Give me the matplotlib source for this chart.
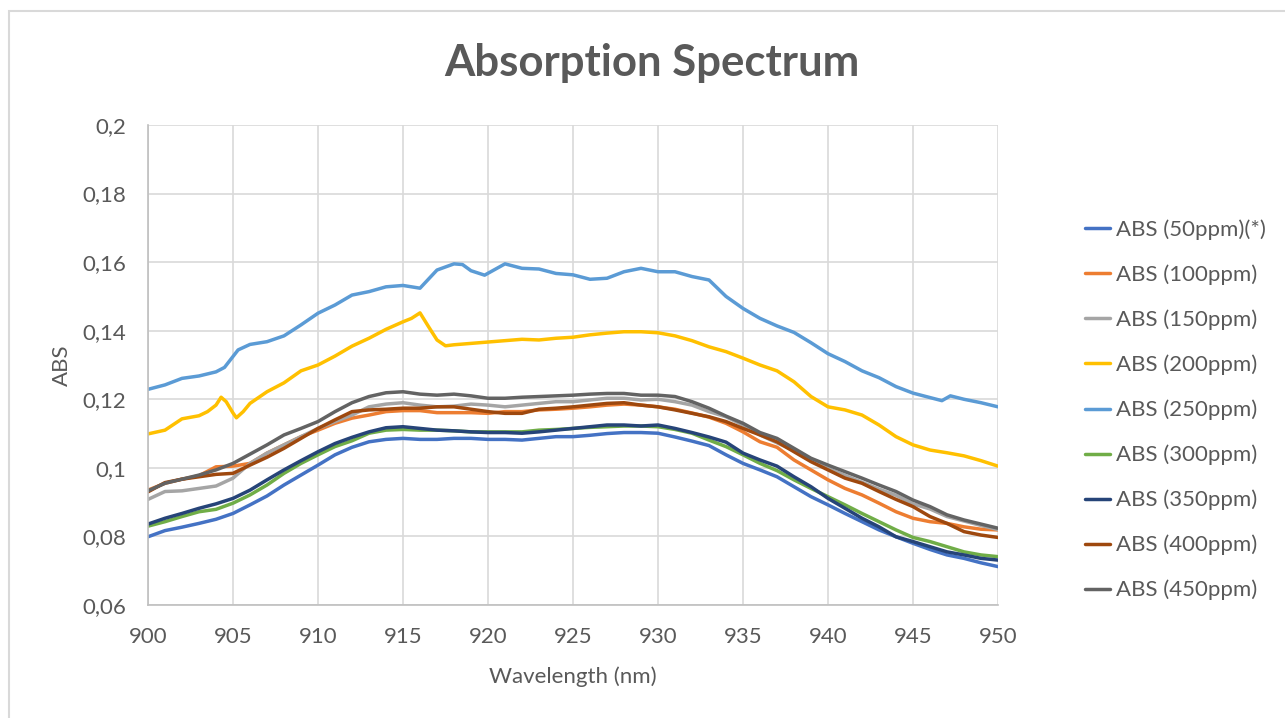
import matplotlib.pyplot as plt
from matplotlib.patches import Rectangle
from matplotlib.ticker import FuncFormatter, MultipleLocator

# wavelength grid (nm) shared by most series
wl = list(range(900, 951))

abs_50 = [0.0799, 0.0817, 0.0827, 0.0838, 0.0850, 0.0867, 0.0892, 0.0918, 0.0950, 0.0979,
          0.1008, 0.1038, 0.1060, 0.1076, 0.1083, 0.1086, 0.1083, 0.1083, 0.1086, 0.1086,
          0.1083, 0.1083, 0.1081, 0.1086, 0.1091, 0.1091, 0.1095, 0.1100, 0.1103, 0.1103,
          0.1101, 0.1090, 0.1078, 0.1065, 0.1038, 0.1013, 0.0994, 0.0974, 0.0945, 0.0916,
          0.0892, 0.0867, 0.0843, 0.0819, 0.0799, 0.0780, 0.0762, 0.0746, 0.0736, 0.0723,
          0.0712]
abs_100 = [0.0935, 0.0955, 0.0967, 0.0977, 0.1003, 0.1005, 0.1013, 0.1043, 0.1067, 0.1091,
           0.1110, 0.1130, 0.1145, 0.1154, 0.1164, 0.1167, 0.1167, 0.1161, 0.1161, 0.1161,
           0.1159, 0.1164, 0.1164, 0.1169, 0.1171, 0.1174, 0.1178, 0.1183, 0.1186, 0.1183,
           0.1178, 0.1171, 0.1160, 0.1148, 0.1130, 0.1105, 0.1076, 0.1060, 0.1023, 0.0994,
           0.0965, 0.0940, 0.0921, 0.0897, 0.0872, 0.0853, 0.0843, 0.0838, 0.0828, 0.0821,
           0.0819]
abs_150 = [0.0908, 0.0931, 0.0933, 0.0940, 0.0947, 0.0970, 0.1013, 0.1043, 0.1067, 0.1091,
           0.1115, 0.1135, 0.1154, 0.1178, 0.1186, 0.1190, 0.1183, 0.1178, 0.1180, 0.1186,
           0.1183, 0.1178, 0.1183, 0.1188, 0.1193, 0.1193, 0.1198, 0.1203, 0.1203, 0.1198,
           0.1200, 0.1193, 0.1183, 0.1164, 0.1149, 0.1125, 0.1096, 0.1073, 0.1050, 0.1020,
           0.0998, 0.0978, 0.0958, 0.0938, 0.0920, 0.0895, 0.0880, 0.0858, 0.0845, 0.0832,
           0.0820]
abs_300 = [0.0830, 0.0843, 0.0858, 0.0872, 0.0879, 0.0897, 0.0921, 0.0950, 0.0984, 0.1013,
           0.1038, 0.1062, 0.1079, 0.1101, 0.1110, 0.1112, 0.1110, 0.1110, 0.1108, 0.1105,
           0.1105, 0.1105, 0.1105, 0.1110, 0.1112, 0.1115, 0.1118, 0.1120, 0.1122, 0.1122,
           0.1120, 0.1112, 0.1101, 0.1081, 0.1062, 0.1038, 0.1013, 0.0992, 0.0965, 0.0940,
           0.0916, 0.0892, 0.0867, 0.0843, 0.0819, 0.0797, 0.0785, 0.0770, 0.0755, 0.0746,
           0.0741]
abs_350 = [0.0836, 0.0853, 0.0867, 0.0882, 0.0895, 0.0911, 0.0935, 0.0965, 0.0994, 0.1021,
           0.1047, 0.1071, 0.1089, 0.1105, 0.1117, 0.1120, 0.1115, 0.1110, 0.1108, 0.1105,
           0.1103, 0.1103, 0.1101, 0.1105, 0.1110, 0.1115, 0.1120, 0.1125, 0.1125, 0.1122,
           0.1125, 0.1115, 0.1103, 0.1090, 0.1075, 0.1043, 0.1023, 0.1005, 0.0974, 0.0945,
           0.0911, 0.0882, 0.0853, 0.0828, 0.0799, 0.0785, 0.0770, 0.0755, 0.0746, 0.0736,
           0.0731]
abs_400 = [0.0930, 0.0957, 0.0967, 0.0974, 0.0981, 0.0984, 0.1008, 0.1031, 0.1057, 0.1086,
           0.1115, 0.1140, 0.1164, 0.1169, 0.1171, 0.1174, 0.1174, 0.1178, 0.1178, 0.1171,
           0.1164, 0.1159, 0.1159, 0.1171, 0.1174, 0.1178, 0.1183, 0.1188, 0.1190, 0.1183,
           0.1178, 0.1169, 0.1159, 0.1149, 0.1135, 0.1115, 0.1096, 0.1076, 0.1047, 0.1018,
           0.0994, 0.0970, 0.0955, 0.0931, 0.0908, 0.0887, 0.0858, 0.0838, 0.0814, 0.0804,
           0.0797]
abs_450 = [0.0933, 0.0955, 0.0967, 0.0979, 0.0994, 0.1013, 0.1040, 0.1067, 0.1096, 0.1115,
           0.1135, 0.1164, 0.1190, 0.1208, 0.1219, 0.1222, 0.1215, 0.1212, 0.1215, 0.1210,
           0.1203, 0.1203, 0.1206, 0.1208, 0.1210, 0.1212, 0.1215, 0.1217, 0.1217, 0.1212,
           0.1212, 0.1208, 0.1193, 0.1174, 0.1151, 0.1130, 0.1103, 0.1086, 0.1057, 0.1028,
           0.1008, 0.0989, 0.0970, 0.0950, 0.0931, 0.0906, 0.0887, 0.0863, 0.0848, 0.0836,
           0.0824]

# series with sharp features get their own, denser wavelength lists
wl_200 = [900, 901, 902, 903, 903.5, 904, 904.3, 904.6, 905, 905.2, 905.6, 906, 907, 908,
          909, 910, 911, 912, 913, 914, 915, 915.5, 916, 916.5, 917, 917.5, 918, 919, 920,
          921, 922, 923, 924, 925, 926, 927, 928, 929, 930, 931, 932, 933, 934, 935, 936,
          937, 938, 939, 940, 941, 942, 943, 944, 945, 946, 947, 948, 949, 950]
abs_200 = [0.1099, 0.1110, 0.1143, 0.1152, 0.1164, 0.1183, 0.1206, 0.1193, 0.1160, 0.1146,
           0.1164, 0.1188, 0.1222, 0.1248, 0.1283, 0.1300, 0.1326, 0.1355, 0.1378, 0.1404,
           0.1426, 0.1436, 0.1452, 0.1412, 0.1373, 0.1356, 0.1359, 0.1363, 0.1367, 0.1371,
           0.1375, 0.1373, 0.1378, 0.1381, 0.1388, 0.1393, 0.1397, 0.1397, 0.1394, 0.1385,
           0.1371, 0.1353, 0.1339, 0.1320, 0.1300, 0.1283, 0.1251, 0.1208, 0.1178, 0.1169,
           0.1154, 0.1125, 0.1091, 0.1067, 0.1052, 0.1044, 0.1035, 0.1021, 0.1005]

wl_250 = [900, 901, 902, 903, 904, 904.5, 905.3, 906, 907, 908, 909, 910, 911, 912, 913,
          914, 915, 916, 917, 918, 918.5, 919, 919.8, 921, 922, 923, 924, 925, 926, 927,
          928, 929, 930, 931, 932, 933, 934, 935, 936, 937, 938, 939, 940, 941, 942, 943,
          944, 945, 946, 946.7, 947.2, 948, 949, 950]
abs_250 = [0.1229, 0.1242, 0.1261, 0.1268, 0.1280, 0.1293, 0.1344, 0.1360, 0.1368, 0.1385,
           0.1417, 0.1451, 0.1475, 0.1504, 0.1514, 0.1528, 0.1532, 0.1524, 0.1577, 0.1595,
           0.1593, 0.1575, 0.1562, 0.1595, 0.1582, 0.1580, 0.1567, 0.1563, 0.1550, 0.1553,
           0.1572, 0.1582, 0.1572, 0.1572, 0.1558, 0.1548, 0.1500, 0.1465, 0.1436, 0.1414,
           0.1395, 0.1365, 0.1333, 0.1310, 0.1283, 0.1263, 0.1237, 0.1218, 0.1205, 0.1196,
           0.1210, 0.1200, 0.1190, 0.1178]

labels = ["ABS (50ppm)(*)", "ABS (100ppm)", "ABS (150ppm)", "ABS (200ppm)",
          "ABS (250ppm)", "ABS (300ppm)", "ABS (350ppm)", "ABS (400ppm)", "ABS (450ppm)"]
colors = ["#4472C4", "#ED7D31", "#A5A5A5", "#FFC000", "#5B9BD5",
          "#70AD47", "#264478", "#9E480E", "#636363"]

series = [(wl, abs_50), (wl, abs_100), (wl, abs_150), (wl_200, abs_200), (wl_250, abs_250),
          (wl, abs_300), (wl, abs_350), (wl, abs_400), (wl, abs_450)]

plt.rcParams["font.family"] = ["Lato", "DejaVu Sans"]
txt = "#595959"
W, H = 1285, 718

fig = plt.figure(figsize=(12.85, 7.18), dpi=100)
# outer chart frame (cropped at right and bottom in the reference)
fig.patches.append(Rectangle((9 / W, -0.05), 1.2, (H - 11) / H + 0.05,
                             transform=fig.transFigure, fill=False,
                             edgecolor="#d9d9d9", linewidth=1.5))

ax = fig.add_axes([148 / W, 113 / H, 850 / W, 480 / H])

for (x, y), lab, c in zip(series, labels, colors):
    ax.plot(x, y, color=c, linewidth=2.5, label=lab, solid_capstyle="round")

ax.set_xlim(900, 950)
ax.set_ylim(0.06, 0.2)
ax.xaxis.set_major_locator(MultipleLocator(5))
ax.yaxis.set_major_locator(MultipleLocator(0.02))
ax.yaxis.set_major_formatter(FuncFormatter(lambda v, p: f"{round(v, 2):g}".replace(".", ",")))
ax.grid(True, color="#d9d9d9", linewidth=1.2)
ax.set_axisbelow(True)
for s in ["top", "right"]:
    ax.spines[s].set_visible(False)
for s in ["left", "bottom"]:
    ax.spines[s].set_color("#bfbfbf")
    ax.spines[s].set_linewidth(1.2)
ax.tick_params(length=0, labelsize=16, labelcolor=txt)
ax.tick_params(axis="x", pad=16)
ax.tick_params(axis="y", pad=16)

fig.text(573 / W, (H - 677) / H, "Wavelength (nm)", ha="center", va="center",
         fontsize=16, color=txt)
fig.text(62 / W, (H - 365) / H, "ABS", ha="center", va="center", rotation=90,
         fontsize=16, color=txt)

fig.text(652 / W, (H - 63) / H, "Absorption Spectrum", ha="center", va="center",
         fontsize=31.5, fontweight="bold", color=txt)

ax.legend(loc="center left", bbox_to_anchor=(1085 / W, (H - 410) / H),
          bbox_transform=fig.transFigure, frameon=False, fontsize=16,
          borderaxespad=0, borderpad=0,
          labelcolor=txt, handlelength=1.13, handletextpad=0.25, labelspacing=1.1)

fig.savefig("out.png", dpi=100)
